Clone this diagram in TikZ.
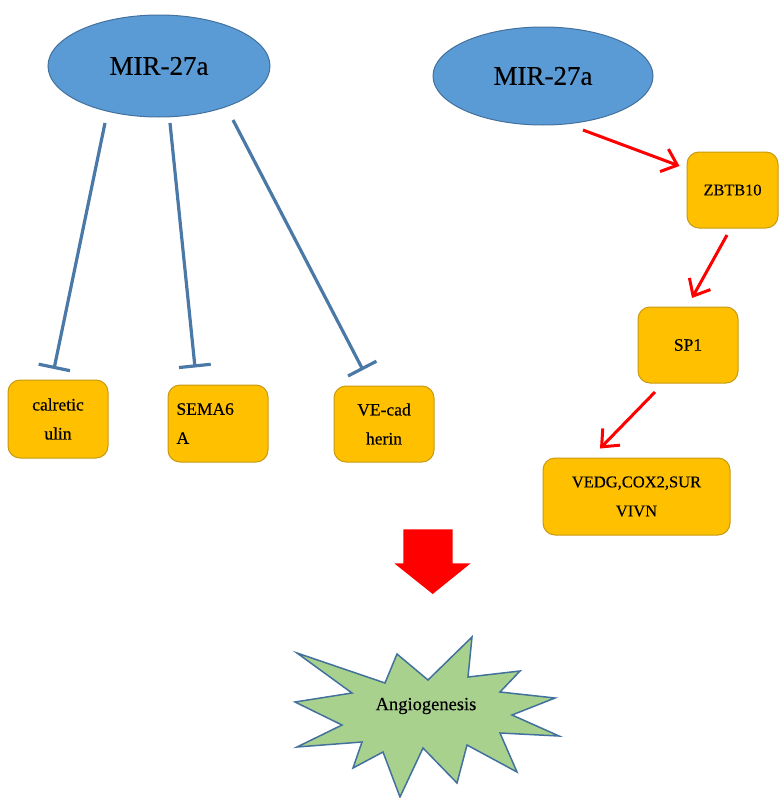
\documentclass[tikz,border=0pt]{standalone}
\usepackage{fontspec}
\setmainfont{Liberation Serif}[FakeBold=0.35]
\usetikzlibrary{arrows.meta,calc,shapes.geometric}
\definecolor{ellfill}{HTML}{5B9BD5}
\definecolor{ellline}{HTML}{41719C}
\definecolor{boxfill}{HTML}{FFC000}
\definecolor{boxline}{HTML}{C79A12}
\definecolor{starfill}{HTML}{A9D18E}
\definecolor{inhib}{HTML}{4A79A8}
\tikzset{
  mir/.style={ellipse, draw=ellline, fill=ellfill, line width=1pt, minimum width=222pt, minimum height=102pt, inner sep=0pt, font=\fontsize{27}{32}\selectfont},
  gbox/.style={rectangle, rounded corners=12pt, draw=boxline, fill=boxfill, line width=1pt, inner sep=0pt, font=\fontsize{17.5}{29}\selectfont},
  inhline/.style={draw=inhib, line width=3.2pt, -{Bar[width=32pt,line width=3.2pt]}},
  actline/.style={draw=red, line width=3pt, -{Straight Barb[length=14pt,width=24pt,line width=3pt]}},
}
\begin{document}
\begin{tikzpicture}[x=1pt,y=-1pt]
\useasboundingbox (0,0) rectangle (780,798);
% ellipses
\node[mir] (m1) at (159,66) {MIR-27a};
\node[mir, minimum width=220pt, minimum height=98pt] (m2) at (543,76) {MIR-27a};
% left boxes
\node[gbox, minimum width=100pt, minimum height=78pt, align=center] (calr) at (58,419) {calretic\\ulin};
\node[gbox, minimum width=100pt, minimum height=77pt, text width=83pt, align=left, inner xsep=0pt] (sema) at (218,423.5) {\hspace*{0pt}SEMA6\\A};
\node[gbox, minimum width=100pt, minimum height=76pt, align=center] (vecad) at (384,424) {VE-cad\\herin};
% right boxes
\node[gbox, minimum width=91pt, minimum height=76pt, font=\fontsize{16.3}{20}\selectfont] (zbtb) at (732.5,190) {ZBTB10};
\node[gbox, minimum width=100pt, minimum height=76pt] (sp1) at (688,345) {SP1};
\node[gbox, minimum width=187pt, minimum height=77pt, align=center, font=\fontsize{16.5}{29}\selectfont] (vedg) at (636.5,496.5) {VEDG,COX2,SUR\\VIVN};
% inhibition lines
\draw[inhline] ([shift={(-54,57)}]m1.center) -- ([shift={(-4,-50)}]calr.center);
\draw[inhline] ([shift={(11,57)}]m1.center) -- ([shift={(-23,-56)}]sema.center);
\draw[inhline] ([shift={(74,54)}]m1.center) -- ([shift={(-21,-54)}]vecad.center);
% activation arrows
\draw[actline] ([shift={(40,54)}]m2.center) -- ([shift={(-53,-24)}]zbtb.center);
\draw[actline] ([shift={(-5.5,45)}]zbtb.center) -- ([shift={(4,-47)}]sp1.center);
\draw[actline] ([shift={(-33,47)}]sp1.center) -- ([shift={(-36.5,-48)}]vedg.center);
% big red arrow
\fill[red] (403.3,529.3) -- (452.7,529.3) -- (452.7,563.3) -- (470.7,563.3) -- (432.7,594) -- (394.3,563.3) -- (403.3,563.3) -- cycle;
% star
\filldraw[fill=starfill, draw=ellline, line width=1.5pt, line join=miter]
  (297,653) -- (385,683) -- (397,654) -- (428,680) -- (472,637) -- (468,677)
  -- (520,671) -- (500,692) -- (555,698) -- (512,715) -- (559,736) -- (500,733)
  -- (517,772) -- (467,745) -- (457,783) -- (423,748) -- (400,797) -- (383,752)
  -- (353,768) -- (362,742) -- (297,747) -- (342,725) -- (295,702) -- (352,693) -- cycle;
\node[font=\fontsize{18.5}{22}\selectfont] (angio) at (426,706) {Angiogenesis};
\end{tikzpicture}
\end{document}
